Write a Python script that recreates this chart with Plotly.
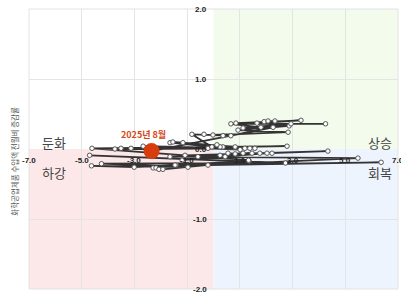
import plotly.graph_objects as go

# Monthly trajectory (x: 전년비 증감률 proxy, y: 전월비 증감률), ending at 2025년 8월
x_vals = [-4.70, 2.73, -4.25, -0.97, -4.63, -3.01, -1.42, -2.29, -2.18, -2.07, -1.92, 1.35,
          -1.46, 6.36, -0.21, 5.48, -1.65, 4.34, -1.08, 2.22, -0.59, 2.03, 0.44, 1.76,
          -1.19, 1.46, 0.25, 1.12, 0.82, 0.55, 1.33, -4.61, 2.79, -3.74, 1.57, -3.51,
          1.38, -3.13, 1.19, -2.67, 1.01, -1.65, 0.82, -1.54, 0.36, -1.16, 0.25, -0.21,
          0.13, -0.06, -0.82, 0.66, -0.36, 0.36, -0.02, 2.83, 0.93, 2.87, 1.12, 2.94,
          1.80, 0.66, 4.25, 0.85, 3.32, 1.65, 2.33, 1.92, 2.07, 2.26, -2.35]
y_vals = [-0.09, -0.20, -0.21, -0.26, -0.24, -0.26, -0.23, -0.27, -0.27, -0.29, -0.29, -0.17,
          -0.23, -0.19, -0.23, -0.13, -0.11, -0.03, -0.09, -0.06, -0.11, -0.06, -0.11, -0.06,
          -0.16, -0.06, -0.09, -0.06, -0.07, -0.06, -0.16, 0.01, 0.04, 0.00, 0.01, 0.01,
          0.01, 0.01, 0.01, 0.04, -0.01, 0.09, 0.03, 0.10, 0.03, 0.09, 0.03, 0.01,
          0.06, 0.03, 0.21, 0.19, 0.21, 0.19, 0.20, 0.24, 0.27, 0.33, 0.30, 0.36,
          0.31, 0.36, 0.36, 0.37, 0.41, 0.37, 0.40, 0.39, 0.40, 0.31, -0.03]
latest_label = "2025년 8월"

x_ticks = [-7, -5, -3, -1, 1, 3, 5, 7]
y_ticks = [2, 1, 0, -1, -2]
quad_labels = ["둔화", "하강", "상승", "회복"]
y_title = "화학공업제품 수입액 전월비 증감률"

XR = [-7, 7]
YR = [-2, 2]

fig = go.Figure()

shapes = [
    dict(type="rect", xref="x", yref="y", x0=0, x1=XR[1], y0=0, y1=YR[1],
         fillcolor="rgb(243,251,236)", line_width=0, layer="below"),
    dict(type="rect", xref="x", yref="y", x0=XR[0], x1=0, y0=YR[0], y1=0,
         fillcolor="rgb(253,232,233)", line_width=0, layer="below"),
    dict(type="rect", xref="x", yref="y", x0=0, x1=XR[1], y0=YR[0], y1=0,
         fillcolor="rgb(238,244,253)", line_width=0, layer="below"),
    dict(type="rect", xref="paper", yref="paper", x0=0, x1=1, y0=0, y1=1,
         line=dict(color="#e2e2e2", width=1), fillcolor="rgba(0,0,0,0)", layer="above"),
]

fig.add_trace(go.Scatter(
    x=x_vals, y=y_vals, mode="lines+markers",
    line=dict(color="#333333", width=1.8),
    marker=dict(size=4.5, color="white", line=dict(color="#555555", width=1)),
    hoverinfo="skip", showlegend=False,
))
fig.add_trace(go.Scatter(
    x=[x_vals[-1]], y=[y_vals[-1]], mode="markers",
    marker=dict(size=16, color="#d83c0c"),
    hoverinfo="skip", showlegend=False,
))

ann = []
tick_font = dict(family="Liberation Sans, Arial", size=8, color="#222")
for t in x_ticks:
    ann.append(dict(x=t, y=0, xref="x", yref="y", text=f"<b>{t:.1f}</b>", showarrow=False,
                    yshift=-11, font=tick_font))
for t in y_ticks:
    ann.append(dict(x=0, y=t, xref="x", yref="y", text=f"<b>{t:.1f}</b>", showarrow=False,
                    xanchor="right", xshift=-5, font=tick_font))

qf = dict(family="Noto Sans CJK KR", size=13, color="#444")
ann.append(dict(x=0.03, y=0.525, xref="paper", yref="paper", text=quad_labels[0],
                showarrow=False, xanchor="left", font=qf))
ann.append(dict(x=0.03, y=0.415, xref="paper", yref="paper", text=quad_labels[1],
                showarrow=False, xanchor="left", font=qf))
ann.append(dict(x=0.99, y=0.525, xref="paper", yref="paper", text=quad_labels[2],
                showarrow=False, xanchor="right", font=qf))
ann.append(dict(x=0.99, y=0.415, xref="paper", yref="paper", text=quad_labels[3],
                showarrow=False, xanchor="right", font=qf))

ann.append(dict(x=x_vals[-1], y=y_vals[-1], xref="x", yref="y", text=f"<b>{latest_label}</b>",
                showarrow=False, xshift=-8, yshift=17,
                font=dict(family="Noto Sans CJK KR", size=9, color="#d4481c")))

ann.append(dict(x=-0.058, y=0.455, xref="paper", yref="paper", text=y_title, textangle=-90,
                showarrow=False, font=dict(family="Noto Sans CJK KR", size=7.5, color="#555")))

fig.update_layout(
    width=401, height=292,
    margin=dict(l=29, r=3, t=9, b=3, autoexpand=False),
    paper_bgcolor="white", plot_bgcolor="white",
    shapes=shapes, annotations=ann,
    xaxis=dict(range=XR, tickvals=[-5, -3, -1, 1, 3, 5], showticklabels=False,
               showgrid=True, gridcolor="#e4e4e4", gridwidth=1, zeroline=False, fixedrange=True),
    yaxis=dict(range=YR, tickvals=[-1, 1], showticklabels=False,
               showgrid=True, gridcolor="#e4e4e4", gridwidth=1, zeroline=False, fixedrange=True),
)

fig.write_html("out.html", config={"displayModeBar": False},
               post_script="document.body.style.margin='0';document.body.style.overflow='hidden';")
